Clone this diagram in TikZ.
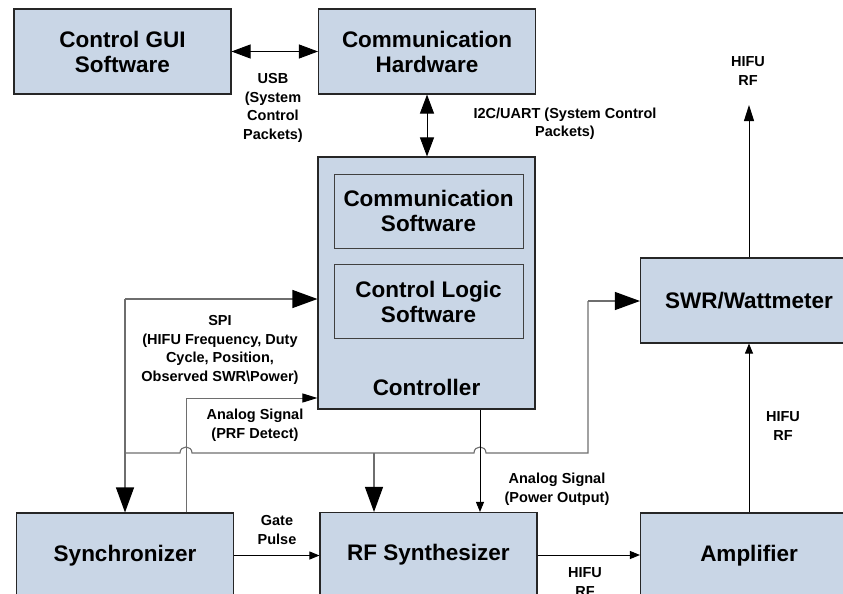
\documentclass[tikz,border=0pt]{standalone}
\usepackage{fontspec}
\setmainfont{Liberation Sans}
\usetikzlibrary{arrows.meta}
\definecolor{boxfill}{RGB}{201,214,230}
\definecolor{busgray}{RGB}{110,110,110}
\begin{document}
\begin{tikzpicture}[x=1pt,y=-1pt,
  box/.style={draw=black!85, line width=1.1pt, fill=boxfill, align=center,
    font=\fontsize{22.5}{25}\selectfont\bfseries, inner sep=0pt,
    minimum width=217pt, minimum height=85pt},
  inbox/.style={draw=black!75, line width=0.8pt, fill=boxfill, align=center,
    font=\fontsize{22.5}{25}\selectfont\bfseries, inner sep=0pt,
    minimum width=189pt, minimum height=74pt},
  boxtext/.style={font=\fontsize{22.5}{25}\selectfont\bfseries, inner sep=0pt},
  lbl/.style={align=center, font=\fontsize{14.5}{18.5}\selectfont\bfseries, inner sep=0pt},
  wire/.style={line width=0.9pt, draw=black},
  bus/.style={line width=1.1pt, draw=busgray},
  bigtip/.style={-{Triangle[length=25pt,width=18pt,color=black]}},
  medtips/.style={{Triangle[length=19pt,width=14pt,color=black]}-{Triangle[length=19pt,width=14pt,color=black]}},
  toptip/.style={-{Triangle[length=16pt,width=10pt,color=black]}},
  prftip/.style={-{Triangle[length=15pt,width=9pt,color=black]}},
  smalltip/.style={-{Triangle[length=10pt,width=8pt,color=black]}}
]
\useasboundingbox (0,0) rectangle (843,594);
\clip (0,0) rectangle (843,594);

% boxes
\node[box] (gui) at (122.5,51.5) {Control GUI\\Software};
\node[box] (hw) at (427,51.5) {Communication\\Hardware};
\node[box, minimum height=252pt] (ctrl) at (426.5,283) {};
\node[inbox] (csw) at (428.5,211) {Communication\\Software};
\node[inbox] (cls) at (428.5,301.5) {Control Logic\\Software};
\node[boxtext] (ctrllbl) at (426.5,387) {Controller};
\node[box] (swr) at (749,300.5) {SWR/Wattmeter};
\node[box] (sync) at (125,555.5) {Synchronizer};
\node[box] (rfs) at (428.5,555) {RF Synthesizer};
\node[box] (amp) at (749,555.5) {Amplifier};

% USB
\draw[wire, medtips] (gui.east) -- (gui.east -| hw.west);
\node[lbl] (usbl) at (273,108) {USB\\(System\\Control\\Packets)};

% I2C
\draw[wire, medtips] (hw.south) -- (hw.south |- ctrl.north);
\node[lbl] (i2cl) at (565,124) {I2C/UART (System Control\\Packets)};

% HIFU RF out
\coordinate (rftop) at (749,105);
\draw[wire, toptip] (swr.north) -- (rftop);
\node[lbl] (rfoutl) at (748,71) {HIFU\\RF};

% Amplifier to SWR
\draw[wire, smalltip] (amp.north) -- (swr.south);
\node[lbl] (rf2l) at (783,426) {HIFU\\RF};

% SPI bus
\coordinate (spiC) at (125,299);
\draw[bus, bigtip] (spiC) -- (spiC -| ctrl.west);
\draw[bus, bigtip] (spiC) -- (sync.north);
\coordinate (busL) at (125,453);
\coordinate (busR) at (588,453);
\coordinate (busT) at (588,301);
\coordinate (busB) at (374,453);
\draw[bus] (busL) -- (180,453) .. controls (180,445) and (192,445) .. (192,453)
  -- (474,453) .. controls (474,445) and (486,445) .. (486,453) -- (busR) -- (busT);
\draw[bus, bigtip] (busT) -- (busT -| swr.west);
\draw[bus, bigtip] (busB) -- (busB |- rfs.north);
\node[lbl] (spil) at (220,350) {SPI\\(HIFU Frequency, Duty\\Cycle, Position,\\Observed SWR\textbackslash Power)};

% PRF detect
\coordinate (prf) at (186,398);
\draw[bus, line width=1pt, prftip] (prf |- sync.north) -- (prf) -- (prf -| ctrl.west);
\node[lbl] (prfl) at (255,425) {Analog Signal\\(PRF Detect)};

% Power output
\coordinate (pw) at (480,409);
\draw[wire, smalltip] (pw |- ctrl.south) -- (pw |- rfs.north);
\node[lbl] (pwl) at (557,489) {Analog Signal\\(Power Output)};

% Gate pulse
\draw[wire, smalltip] (sync.east) -- (sync.east -| rfs.west);
\node[lbl] (gatel) at (277,530) {Gate\\Pulse};

% HIFU RF to amplifier
\draw[wire, smalltip] (rfs.east) -- (rfs.east -| amp.west);
\node[lbl] (rf3l) at (585,582) {HIFU\\RF};
\end{tikzpicture}
\end{document}
